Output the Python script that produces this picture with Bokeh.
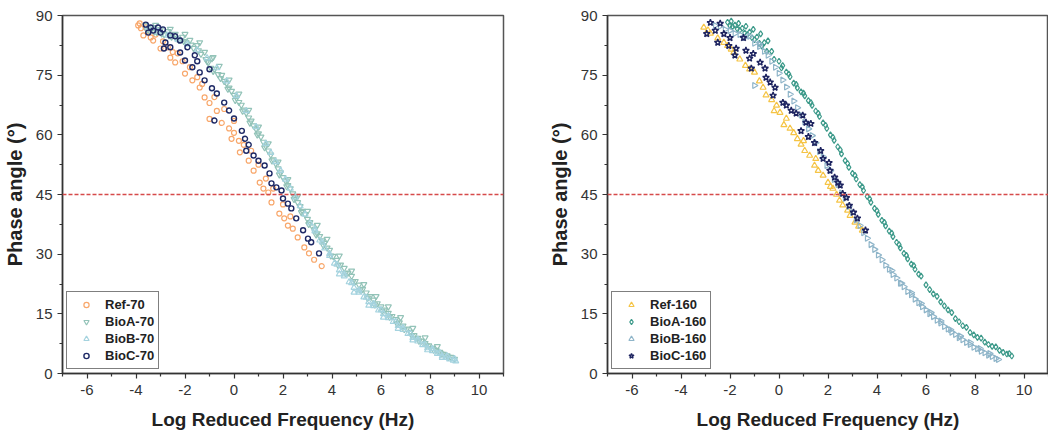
import math
from bokeh.plotting import figure
from bokeh.models import Range1d, FixedTicker, Span
from bokeh.layouts import row
from bokeh.embed import file_html
from bokeh.resources import INLINE

# ---------------- data ----------------
X_TICKS = [-6, -4, -2, 0, 2, 4, 6, 8, 10]
X_TICK_LABELS = ["-6", "-4", "-2", "0", "2", "4", "6", "8", "10"]
X_MINOR = [-7, -5, -3, -1, 1, 3, 5, 7, 9, 11]
Y_TICKS = [0, 15, 30, 45, 60, 75, 90]
Y_MINOR = [7.5, 22.5, 37.5, 52.5, 67.5, 82.5]

REF70_X = [-3.91, -3.8, -3.7, -3.5, -3.3, -3.2, -3.0, -2.9, -2.6, -2.7, -2.4, -2.3, -2.0, -2.1,
           -1.7, -1.8, -1.4, -1.5, -1.2, -1.0, -1.0, -0.7, -0.8, -0.5, -0.4, -0.2, 0.0, 0.0,
           0.24, 0.2, 0.4, 0.6, 0.7, 0.8, 1.05, 1.0, 1.2, 1.4, 1.3, 1.53, 1.6, 1.85, 2.05, 2.0,
           2.2, 2.4, 2.3, 2.6, 2.87, 3.06, 3.27, 3.58, -3.85, -3.6, -3.4, -2.5, -1.3, -0.1]
REF70_Y = [87.5, 86.8, 85.0, 86.0, 83.7, 85.2, 81.7, 83.5, 79.4, 82.0, 78.2, 80.5, 75.4, 78.5,
           73.7, 77.0, 71.9, 74.5, 69.4, 68.0, 64.0, 66.0, 69.5, 63.0, 66.5, 61.6, 60.5, 63.5,
           55.6, 58.5, 57.5, 53.5, 56.0, 51.0, 48.0, 52.5, 46.5, 45.5, 49.0, 43.0, 46.5, 40.2, 39.0, 42.5,
           37.2, 36.4, 39.5, 34.2, 31.7, 30.2, 28.6, 27.0, 88.0, 87.0, 84.5, 80.8, 72.8, 59.0]

BIOA70_X = [-3.6, -3.3, -3.0, -2.7, -2.4, -2.1, -1.8, -1.5, -1.2, -0.9,
            -1.1, -0.8, -0.5, -0.3, -0.1, 0.1, 0.3, 0.5, 0.7, 0.9,
            1.1, 1.3, 1.5, 1.7, 1.9, 2.1, 2.3, 2.5, 2.7, 2.9,
            3.1, 3.3, 3.5, 3.7, 3.9, 4.2, 4.5, 4.8, 5.1, 5.4,
            5.7, 6.0, 6.3, 6.6, 6.9, 7.2, 7.5, 7.8, 8.1, 8.4, 8.7, 9.0,
            -3.45, -3.15, -2.85, -2.55, -2.25, -1.95, -1.65, -1.35, -1.05, -0.95,
            -0.65, -0.4, -0.2, 0.0, 0.2, 0.4, 0.6, 0.8, 1.0, 1.2,
            1.4, 1.6, 1.8, 2.0, 2.2, 2.4, 2.6, 2.8, 3.0, 3.2,
            3.4, 3.6, 3.8, 4.05, 4.35, 4.65, 4.95, 5.25, 5.55, 5.85,
            6.15, 6.45, 6.75, 7.05, 7.35, 7.65, 7.95, 8.25, 8.55, 8.85,
            -3.2, -2.6, -2.0, -1.4, -0.85, -0.6, -0.2, 0.2, 0.6, 1.0,
            1.4, 1.8, 2.2, 2.6, 3.0, 3.4, 3.8, 4.3, 4.8, 5.3,
            5.8, 6.3, 6.8, 7.3, 7.8, 8.3,
            -3.55, -3.25, -2.95, -2.65, -2.35, -2.05, -1.75, -1.45, -1.15, -0.85,
            -0.55, -0.25, 0.05, 0.35, 0.65, 0.95, 1.25, 1.55, 1.85, 2.15,
            2.45, 2.75, 3.05, 3.35, 3.65, 3.95, 4.25, 4.55, 4.85, 5.15,
            5.45, 5.75, 6.05, 6.35, 6.65, 6.95, 7.25, 7.55, 7.85, 8.15, 8.45, 8.75]
BIOA70_Y = [87.5, 87.0, 86.5, 86.0, 85.3, 84.6, 83.8, 82.5, 80.8, 79.2,
            78.5, 76.5, 75.0, 73.0, 71.0, 69.3, 67.5, 65.5, 63.5, 61.5,
            59.5, 57.2, 55.0, 52.8, 50.5, 48.5, 46.5, 44.2, 42.0, 40.0,
            38.0, 36.3, 34.5, 32.8, 31.0, 28.5, 26.5, 24.5, 22.3, 20.3,
            18.5, 16.8, 15.2, 13.6, 12.0, 10.4, 8.9, 7.6, 6.4, 5.4, 4.5, 3.6,
            86.2, 85.8, 85.2, 84.6, 83.8, 83.2, 81.8, 80.3, 78.2, 76.8,
            75.2, 73.5, 71.8, 70.0, 68.2, 66.3, 64.3, 62.3, 60.3, 58.2,
            56.0, 53.8, 51.5, 49.3, 47.3, 45.2, 43.0, 40.8, 38.8, 36.9,
            35.2, 33.4, 31.6, 29.5, 27.3, 25.3, 23.2, 21.2, 19.4, 17.6,
            16.0, 14.4, 12.8, 11.2, 9.6, 8.2, 7.0, 5.9, 4.9, 4.1,
            87.6, 86.6, 85.3, 83.2, 79.5, 77.3, 73.8, 70.3, 66.2, 62.0,
            57.8, 53.2, 48.8, 44.6, 40.8, 37.3, 33.8, 29.6, 25.8, 22.4,
            19.4, 16.8, 14.1, 11.4, 9.0, 6.8,
            86.4, 85.9, 85.4, 84.9, 84.2, 83.5, 82.6, 81.2, 79.0, 76.0,
            74.2, 71.5, 68.7, 66.0, 63.0, 60.0, 56.8, 53.5, 50.0, 47.0,
            43.8, 40.5, 37.5, 34.9, 32.2, 29.6, 27.2, 25.2, 23.1, 21.0,
            19.0, 17.3, 15.7, 14.2, 12.6, 11.1, 9.6, 8.2, 7.0, 5.9, 5.0, 4.1]

BIOB70_X = [-3.5, -3.1, -2.7, -2.3, -1.9, -1.5, -1.1, -0.7, -0.3, 0.1,
            0.5, 0.9, 1.3, 1.7, 2.1, 2.5, 2.9, 3.3, 3.7, 4.1,
            4.5, 4.9, 5.3, 5.7, 6.1, 6.5, 6.9, 7.3, 7.7, 8.1, 8.5, 8.8, 9.05,
            3.5, 3.9, 4.3, 4.7, 5.1, 5.5, 5.9, 6.3, 6.7, 7.1, 7.5, 7.9, 8.3, 8.65, 8.95,
            1.5, 1.9, 2.3, 2.7, 3.1,
            4.3, 4.9, 5.5, 6.1, 6.7, 7.3, 7.9, 8.5,
            3.3, 3.6, 3.9, 4.2, 4.5, 4.8, 5.1, 5.4, 5.7, 6.0,
            6.3, 6.6, 6.9, 7.2, 7.5, 7.8, 8.1, 8.4, 8.7, 9.0]
BIOB70_Y = [87.0, 86.0, 85.0, 84.0, 82.8, 81.3, 79.3, 76.8, 73.5, 69.8,
            66.0, 62.0, 57.8, 53.2, 48.8, 44.3, 40.0, 35.8, 31.5, 27.7,
            24.5, 21.6, 19.2, 17.0, 15.0, 13.0, 11.0, 9.0, 7.2, 5.7, 4.4, 3.6, 3.1,
            33.5, 29.6, 26.0, 23.0, 20.4, 18.0, 15.9, 14.0, 12.0, 10.0, 8.1, 6.4, 5.0, 4.0, 3.3,
            55.5, 51.0, 46.5, 42.1, 37.8,
            25.0, 20.4, 17.1, 14.1, 11.3, 8.4, 5.9, 4.0,
            36.3, 33.0, 30.1, 27.4, 25.0, 22.8, 20.9, 19.1, 17.5, 16.0,
            14.5, 13.0, 11.5, 10.0, 8.6, 7.3, 6.2, 5.2, 4.4, 3.7]

BIOC70_X = [-3.6, -3.3, -3.0, -2.6, -2.2, -3.5, -2.8, -2.6, -2.2, -2.0,
            -1.7, -1.4, -1.2, -0.9, -0.7, -0.4, -0.2, 0.0, 0.32, -2.86,
            -0.8, 0.8, 1.0, 1.25, 1.45, 1.53, 1.73, 1.94, 2.0, 2.2,
            2.34, 2.54, 2.82, 3.02, 3.15, 3.47, 0.45, 0.6, 0.5,
            -3.4, -3.1, -2.9, -2.4, -1.9, -1.6, -1.0, -1.5]
BIOC70_Y = [87.7, 86.2, 85.7, 85.0, 83.7, 85.7, 83.2, 82.0, 80.7, 78.7,
            77.0, 75.7, 73.7, 71.7, 70.4, 68.1, 66.1, 64.1, 61.0, 81.7,
            63.6, 54.8, 53.5, 52.3, 50.3, 47.8, 46.8, 46.0, 44.0, 42.7,
            41.5, 39.0, 36.0, 33.9, 33.0, 30.2, 59.0, 57.5, 56.0,
            87.0, 87.0, 86.5, 84.8, 82.0, 80.0, 76.5, 78.5]

REF160_X = [-3.07, -2.9, -2.8, -2.5, -2.25, -2.1, -1.95, -1.85, -1.6, -1.37,
            -1.2, -1.0, -0.8, -0.65, -0.53, -0.3, -0.1, 0.04, 0.3, 0.45,
            0.6, 0.75, 0.9, 1.05, 1.25, 1.45, 1.6, 1.8, 2.0, 2.2,
            2.35, 2.47, 2.6, 2.8, 2.9, 3.1, 3.25, 3.4,
            -0.2, 0.2, 1.0, 1.5, 2.1]
REF160_Y = [87.0, 86.3, 85.5, 84.3, 83.2, 82.4, 81.5, 80.7, 79.0, 77.4,
            76.5, 75.7, 73.5, 71.9, 70.0, 68.8, 67.4, 65.6, 64.1, 61.6,
            60.5, 59.0, 57.6, 56.0, 54.8, 52.3, 51.0, 49.8, 48.0, 46.5,
            45.0, 43.5, 42.3, 41.0, 39.7, 38.0, 37.0, 36.0,
            66.0, 62.5, 58.5, 54.0, 47.0]

BIOA160_X = [-2.1, -1.8, -1.5, -1.2, -0.9, -0.6, -0.3, 0.0, 0.3, 0.6,
             0.9, 1.2, 1.5, 1.8, 2.1, 2.4, 2.7, 3.0, 3.3, 3.6,
             3.9, 4.2, 4.5, 4.8, 5.1, 5.4, 5.7, 6.0, 6.3, 6.6,
             6.9, 7.2, 7.5, 7.8, 8.1, 8.4, 8.7, 9.0, 9.3, 9.5,
             -1.95, -1.65, -1.35, -1.05, -0.75, -0.45, -1.9, -1.6, -1.3, -1.0, -0.7,
             0.15, 0.45, 0.75, 1.05, 1.35, 1.65, 1.95, 2.25, 2.55, 2.85,
             3.15, 3.45, 3.75, 4.05, 4.35, 4.65, 4.95, 5.25, 5.55,
             6.15, 6.75, 7.35, 7.95, 8.55, 9.15,
             -2.0, -1.7, -1.4, -1.1, -0.8, -0.5, -0.2, 0.1,
             0.4, 0.7, 1.0, 1.3, 1.6, 1.9, 2.2, 2.5, 2.8, 3.1,
             3.4, 3.7, 4.0, 4.3, 4.6, 4.9, 5.2, 5.5, 5.8, 6.45,
             7.05, 7.65, 8.25, 8.85, 9.4]
BIOA160_Y = [88.3, 87.6, 86.8, 85.8, 84.6, 83.2, 81.0, 78.5, 75.8, 73.0,
             70.8, 68.6, 66.0, 63.0, 60.0, 57.0, 53.5, 50.3, 47.5, 44.5,
             41.5, 38.5, 35.8, 33.0, 30.2, 27.5, 25.0, 22.3, 20.0, 18.0,
             16.0, 13.8, 12.0, 10.3, 9.1, 7.9, 6.8, 5.8, 4.9, 4.4,
             88.6, 88.0, 87.3, 86.5, 85.4, 83.6, 87.2, 86.3, 85.2, 83.9, 82.3,
             77.4, 74.6, 71.8, 69.8, 67.4, 64.6, 61.6, 58.6, 55.2, 51.8,
             48.9, 46.0, 43.0, 40.0, 37.1, 34.4, 31.6, 28.8, 26.2,
             21.1, 17.0, 13.0, 9.7, 7.3, 5.3,
             87.4, 86.6, 85.6, 84.4, 83.0, 81.0, 79.0, 76.8,
             75.3, 72.7, 70.5, 68.1, 65.4, 62.4, 59.4, 56.2, 52.8, 49.8,
             46.9, 43.9, 40.9, 38.0, 35.3, 32.4, 29.7, 27.1, 24.5, 19.4,
             15.3, 11.6, 8.9, 6.7, 5.0]

BIOB160_X = [-2.6, -2.2, -1.8, -1.4, -1.0, -0.6, -0.3, 0.0, 0.3, 0.6,
             0.9, 1.2, 1.5, 1.8, 2.1, 2.4, 2.7, 3.0, 3.3, 3.6,
             3.9, 4.2, 4.5, 4.8, 5.1, 5.4, 5.7, 6.0, 6.3, 6.6,
             6.9, 7.2, 7.5, 7.8, 8.1, 8.4, 8.7, 8.95,
             -1.2, -0.8, -1.0, 1.65, 1.95, 2.25, 2.55, 2.85, 3.15, 3.45, 3.75, 4.05, 4.35,
             4.65, 4.95, 5.25, 5.55, 5.85, 6.15, 6.45, 6.75, 7.05, 7.35,
             7.65, 7.95, 8.25, 8.55, 8.85,
             -2.4, -2.0, -1.6, -0.8, -0.45, -0.15, 0.15, 0.45, 0.75, 1.05, 1.35,
             4.6, 5.0, 5.4, 5.8, 6.2, 6.6, 7.0, 7.4, 7.8, 8.2, 8.6]
BIOB160_Y = [87.5, 86.5, 85.5, 84.5, 83.0, 81.0, 78.5, 75.5, 72.0, 68.5,
             65.0, 61.5, 58.0, 54.5, 51.0, 47.5, 44.0, 40.5, 37.2, 34.0,
             31.2, 28.6, 26.2, 24.0, 21.8, 19.8, 17.8, 16.0, 14.3, 12.7,
             11.2, 9.8, 8.5, 7.3, 6.2, 5.2, 4.3, 3.5,
             84.8, 82.8, 72.4, 55.8, 52.3, 48.8, 45.4, 42.0, 38.6, 35.4, 32.4, 29.8, 27.2,
             24.9, 22.7, 20.6, 18.7, 16.8, 15.0, 13.4, 11.8, 10.4, 9.0,
             7.8, 6.6, 5.6, 4.6, 3.8,
             87.3, 86.2, 85.2, 82.2, 80.0, 77.0, 73.8, 70.2, 66.8, 63.2, 59.8,
             25.9, 22.7, 20.3, 17.6, 15.3, 13.2, 11.0, 9.4, 7.8, 6.3, 5.0]

BIOC160_X = [-2.8, -2.4, -2.95, -2.6, -2.25, -2.0, -2.5, -2.05, -1.75, -1.45,
             -1.8, -1.35, -1.2, -1.05, -0.77, -1.13, -0.57, -0.53, -0.36, -0.16,
             -0.24, 0.16, 0.3, 0.5, 0.7, 0.97, 1.1, 1.3, 0.9, 1.2,
             1.45, 1.7, 1.8, 2.04, 2.08, 2.27, 2.4, 2.5, 2.6, 2.75,
             2.87, 3.04, 3.2, 3.53]
BIOC160_Y = [88.2, 88.0, 85.4, 86.2, 85.4, 84.4, 83.2, 82.4, 81.7, 84.4,
             80.0, 81.2, 79.2, 80.4, 78.2, 76.7, 76.7, 74.4, 73.2, 71.9,
             69.9, 68.1, 67.4, 66.1, 65.4, 64.9, 63.1, 62.8, 61.0, 59.5,
             58.0, 56.0, 54.0, 53.0, 51.0, 49.3, 48.0, 47.3, 45.2, 44.2,
             42.2, 40.5, 39.0, 36.0]

FONT = "Liberation Sans"


def make_fig(width, border_right):
    p = figure(width=width, height=434, x_range=Range1d(-7, 11), y_range=Range1d(0, 90),
               output_backend="svg", toolbar_location=None,
               min_border_left=58, min_border_right=border_right,
               min_border_top=15, min_border_bottom=61)
    p.xgrid.visible = False
    p.ygrid.visible = False
    p.outline_line_color = "#555555"
    p.outline_line_width = 1.5
    p.background_fill_color = "white"
    p.border_fill_color = "white"
    p.xaxis.ticker = FixedTicker(ticks=X_TICKS, minor_ticks=X_MINOR)
    p.xaxis.major_label_overrides = {t: s for t, s in zip(X_TICKS, X_TICK_LABELS)}
    p.yaxis.ticker = FixedTicker(ticks=Y_TICKS, minor_ticks=Y_MINOR)
    for ax in (p.xaxis[0], p.yaxis[0]):
        ax.axis_line_color = "#333333"
        ax.axis_line_width = 1.5
        ax.major_tick_line_color = "#333333"
        ax.minor_tick_line_color = "#333333"
        ax.major_tick_line_width = 1.2
        ax.minor_tick_line_width = 1.2
        ax.major_tick_in = 0
        ax.major_tick_out = 5
        ax.minor_tick_in = 0
        ax.minor_tick_out = 3
        ax.major_label_text_font = FONT
        ax.major_label_text_font_size = "15px"
        ax.major_label_text_color = "#333333"
        ax.axis_label_text_font = FONT
        ax.axis_label_text_font_style = "bold"
        ax.axis_label_text_color = "#222222"
    p.xaxis.axis_label_text_font_size = "19px"
    p.yaxis.axis_label_text_font_size = "20px"
    p.xaxis.axis_label = "Log Reduced Frequency (Hz)"
    p.yaxis.axis_label = "Phase angle (°)"
    p.xaxis.major_label_standoff = 6
    p.xaxis.axis_label_standoff = 11
    p.yaxis.major_label_standoff = 5
    p.yaxis.axis_label_standoff = 7
    p.add_layout(Span(location=45, dimension="width", line_color="#d64a4a",
                      line_dash="4 2", line_width=1.5))
    return p


def style_legend(p):
    lg = p.legend[0]
    lg.location = (4, 4)
    lg.border_line_color = "black"
    lg.border_line_width = 1
    lg.background_fill_color = "white"
    lg.background_fill_alpha = 1
    lg.label_text_font = FONT
    lg.label_text_font_style = "bold"
    lg.label_text_font_size = "13px"
    lg.label_text_color = "#222222"
    lg.glyph_width = 30
    lg.glyph_height = 13
    lg.label_height = 17
    lg.spacing = 0
    lg.padding = 4
    lg.margin = 0
    lg.label_standoff = 4


S = 5
LW = 1.2
p1 = make_fig(545, 42)
p1.scatter(REF70_X, REF70_Y, marker="circle", size=S, fill_color=None,
           line_color="#f8a76b", line_width=LW, legend_label="Ref-70")
p1.scatter(BIOA70_X, BIOA70_Y, marker="inverted_triangle", size=S + 1, fill_color=None,
           line_color="#93c3b8", line_width=LW, legend_label="BioA-70")
p1.scatter(BIOB70_X, BIOB70_Y, marker="triangle", size=S + 1, fill_color=None,
           line_color="#a5d3df", line_width=LW, legend_label="BioB-70")
p1.scatter(BIOC70_X, BIOC70_Y, marker="circle", size=S, fill_color=None,
           line_color="#1f2a66", line_width=1.4, legend_label="BioC-70")
style_legend(p1)

p2 = make_fig(503, 0)
p2.scatter(REF160_X, REF160_Y, marker="triangle", size=S + 1, fill_color=None,
           line_color="#f5c445", line_width=LW, legend_label="Ref-160")
p2.scatter(BIOA160_X, BIOA160_Y, marker="diamond", size=S + 1, fill_color=None,
           line_color="#3d9a8a", line_width=LW, legend_label="BioA-160")
p2.scatter(BIOB160_X, BIOB160_Y, marker="triangle", angle=-math.pi / 2, size=S + 1,
           fill_color=None, line_color="#8fb5c9", line_width=LW, legend_label="BioB-160")
p2.scatter(BIOC160_X, BIOC160_Y, marker="star", size=S + 2, fill_color=None,
           line_color="#1e2460", line_width=1.4, legend_label="BioC-160")
style_legend(p2)

layout = row(p1, p2)
open("out.html", "w").write(file_html(layout, INLINE))
